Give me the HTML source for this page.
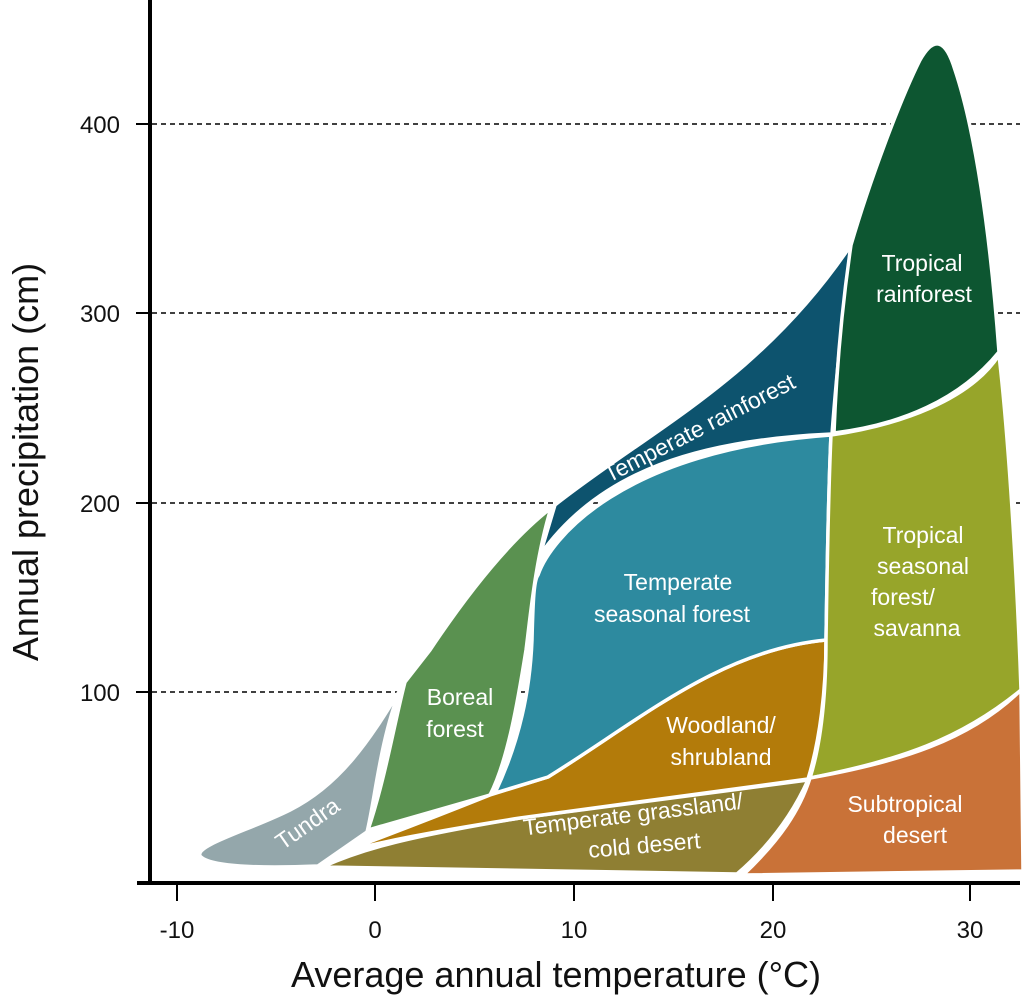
<!DOCTYPE html>
<html><head><meta charset="utf-8"><style>html,body{margin:0;padding:0;background:#fff}svg{display:block}</style></head><body>
<svg width="1024" height="996" viewBox="0 0 1024 996" xmlns="http://www.w3.org/2000/svg" font-family="'Liberation Sans', sans-serif">
<g stroke="#000" stroke-width="1.6" stroke-dasharray="5,4">
<line x1="152" y1="124" x2="1020" y2="124"/><line x1="152" y1="313" x2="1020" y2="313"/><line x1="152" y1="503" x2="1020" y2="503"/><line x1="152" y1="692" x2="1020" y2="692"/>
</g>
<g stroke="#fff" stroke-width="3.5" stroke-linejoin="round">
<path fill="#94a7ab" d="M400,690 C380,740 375,800 367,832 L318,866 C270,868 210,868 200,856 C195,845 250,830 290,810 C340,785 370,740 400,690Z"/>
<path fill="#5a9150" d="M405,682 L430,650 C470,590 510,540 551,508 C535,560 530,620 526,650 C518,700 508,760 490,795 L368,830 C385,780 395,720 405,682Z"/>
<path fill="#8f7f33" d="M322,867 C360,850 400,838 520,818 L808,780 C790,820 765,850 737,874 L322,867Z"/>
<path fill="#b37b0a" d="M340,853 C380,838 440,815 490,795 L548,777 C640,720 720,650 826,640 C826,690 820,740 808,779 L520,818 C430,832 380,842 340,853Z"/>
<path fill="#0d536e" d="M540,555 L555,505 C650,430 760,380 851,245 C842,320 836,380 832,434 C700,440 600,470 540,555Z"/>
<path fill="#2d8a9f" d="M538,575 C550,540 620,450 831,435 C828,500 827,580 826,640 C720,650 640,720 548,777 L495,793 C520,740 530,690 532,640 C533,600 534,580 538,575Z"/>
<path fill="#0d5631" d="M851,245 C870,180 900,100 920,60 C933,37 945,37 955,70 C975,130 990,230 999,352 C960,400 900,425 834,433 C836,380 840,320 851,245Z"/>
<path fill="#97a52a" d="M831,435 C900,425 970,400 999,355 C1010,450 1018,600 1021,690 C960,740 900,760 810,778 C822,740 826,690 826,640 C827,580 828,500 831,435Z"/>
<path fill="#c97238" d="M810,778 C900,762 970,740 1021,690 L1023,871 L743,875 C780,840 800,810 810,778Z"/>
</g>
<g fill="#000"><rect x="148" y="0" width="4" height="885"/><rect x="137" y="881" width="883" height="4"/>
<rect x="176" y="883" width="2" height="18"/><rect x="374" y="883" width="2" height="18"/><rect x="573" y="883" width="2" height="18"/><rect x="772" y="883" width="2" height="18"/><rect x="969" y="883" width="2" height="18"/>
<rect x="136" y="123" width="14" height="2"/><rect x="136" y="312" width="14" height="2"/><rect x="136" y="502" width="14" height="2"/><rect x="136" y="691" width="14" height="2"/></g>
<g font-size="24" fill="#111" text-anchor="end"><text x="120" y="133">400</text><text x="120" y="322">300</text><text x="120" y="512">200</text><text x="120" y="701">100</text></g>
<g font-size="24" fill="#111" text-anchor="middle"><text x="177" y="938">-10</text><text x="375" y="938">0</text><text x="574" y="938">10</text><text x="773" y="938">20</text><text x="970" y="938">30</text></g>
<text x="556" y="987" font-size="36" text-anchor="middle" fill="#111">Average annual temperature (°C)</text>
<text transform="translate(38,462) rotate(-90)" font-size="36" text-anchor="middle" fill="#111">Annual precipitation (cm)</text>
<g font-size="23" fill="#fff" text-anchor="middle">
<text transform="translate(312,830) rotate(-35)">Tundra</text>
<text x="460" y="705">Boreal</text><text x="455" y="737">forest</text>
<text transform="translate(703,435) rotate(-27)">Temperate rainforest</text>
<text x="678" y="590">Temperate</text><text x="672" y="622">seasonal forest</text>
<text x="721" y="733">Woodland/</text><text x="721" y="765">shrubland</text>
<text transform="translate(634,822) rotate(-7)">Temperate grassland/</text>
<text transform="translate(645,853) rotate(-5)">cold desert</text>
<text x="922" y="271">Tropical</text><text x="924" y="302">rainforest</text>
<text x="923" y="543">Tropical</text><text x="923" y="574">seasonal</text><text x="903" y="605">forest/</text><text x="917" y="636">savanna</text>
<text x="905" y="812">Subtropical</text><text x="915" y="843">desert</text>
</g>
</svg>
</body></html>
